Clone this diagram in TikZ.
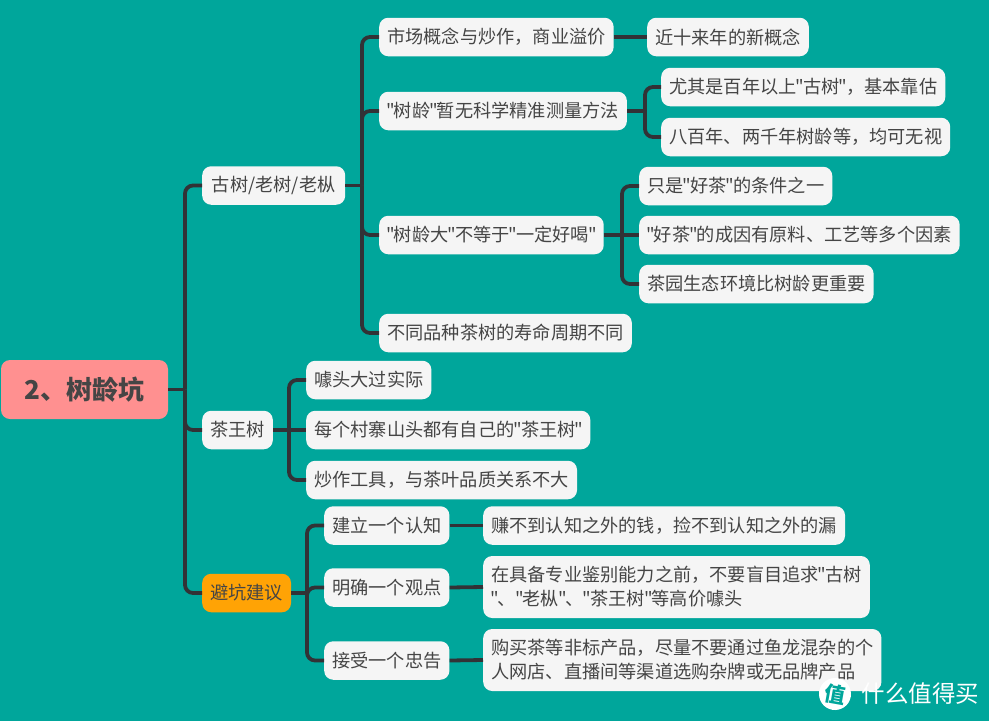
\documentclass[tikz,border=0pt]{standalone}
\usepackage{fontspec}
\newfontfamily\cjkfont{Noto Sans CJK SC}
\newcommand{\qm}{\kern-1pt"\kern-1pt}
\definecolor{bgteal}{HTML}{00A69B}
\definecolor{wirecol}{HTML}{323236}
\definecolor{leafcol}{HTML}{F5F5F5}
\definecolor{textcol}{HTML}{454545}
\definecolor{rootcol}{HTML}{FF9090}
\definecolor{tipcol}{HTML}{FFA305}
\tikzset{
    topic/.style={anchor=west, fill=leafcol, text=textcol, rounded corners=9pt, minimum height=38.5pt,
        inner xsep=8pt, inner ysep=3pt, font=\fontsize{18.2pt}{24pt}\cjkfont, align=left},
    wire/.style={draw=wirecol, line width=3.8pt, rounded corners=8pt},
}
\begin{document}
\begin{tikzpicture}[x=1pt, y=-1pt]
    \useasboundingbox (0,0) rectangle (989,721);
    \fill[bgteal] (0,0) rectangle (989,721);

    \coordinate (rootBus) at (185,389.5);
    \coordinate (treeBus) at (362,185.5);
    \coordinate (ageBus) at (645,111);
    \coordinate (drinkBus) at (622,235);
    \coordinate (kingBus) at (289,430);
    \coordinate (tipBus) at (307,593);

    \node[topic, anchor=center, fill=rootcol, minimum width=167pt, minimum height=59pt, font=\fontsize{26pt}{28pt}\cjkfont\bfseries] (root) at (84.5,389.5) {2、树龄坑};
    \node[topic, minimum width=143pt] (tree) at (202,185.5) {古树/老树/老枞};
    \node[topic] (king) at (202,430) {茶王树};
    \node[topic, fill=tipcol] (tip) at (202,593) {避坑建议};

    \node[topic] (market) at (379,37) {市场概念与炒作，商业溢价};
    \node[topic] (concept) at (647,37) {近十来年的新概念};
    \node[topic] (measure) at (379,111) {\qm 树龄\qm 暂无科学精准测量方法};
    \node[topic] (century) at (661,87) {尤其是百年以上\qm 古树\qm ，基本靠估};
    \node[topic] (ignore) at (661,137) {八百年、两千年树龄等，均可无视};
    \node[topic] (drink) at (379,235) {\qm 树龄大\qm 不等于\qm 一定好喝\qm};
    \node[topic] (only) at (639,186) {只是\qm 好茶\qm 的条件之一};
    \node[topic] (cause) at (639,235) {\qm 好茶\qm 的成因有原料、工艺等多个因素};
    \node[topic] (garden) at (639,284) {茶园生态环境比树龄更重要};
    \node[topic] (species) at (379,333) {不同品种茶树的寿命周期不同};

    \node[topic] (hype) at (306,380) {噱头大过实际};
    \node[topic] (village) at (306,430) {每个村寨山头都有自己的\qm 茶王树\qm};
    \node[topic] (tool) at (306,480) {炒作工具，与茶叶品质关系不大};

    \node[topic] (cognize) at (324,525.5) {建立一个认知};
    \node[topic] (money) at (483,525.5) {赚不到认知之外的钱，捡不到认知之外的漏};
    \node[topic] (view) at (324,587.5) {明确一个观点};
    \node[topic, minimum height=62pt] (chase) at (483,587) {在具备专业鉴别能力之前，不要盲目追求\qm 古树\\\qm 、\qm 老枞\qm 、\qm 茶王树\qm 等高价噱头};
    \node[topic] (advice) at (324,660.5) {接受一个忠告};
    \node[topic, minimum height=62pt] (buy) at (483,660) {购买茶等非标产品，尽量不要通过鱼龙混杂的个\\人网店、直播间等渠道选购杂牌或无品牌产品};

    \draw[wire] (root.east) -- (rootBus);
    \draw[wire] (rootBus) |- (tree.west);
    \draw[wire] (rootBus) |- (king.west);
    \draw[wire] (rootBus) |- (tip.west);

    \draw[wire] (tree.east) -- (treeBus);
    \draw[wire] (treeBus) |- (market.west);
    \draw[wire] (treeBus) |- (measure.west);
    \draw[wire] (treeBus) |- (drink.west);
    \draw[wire] (treeBus) |- (species.west);
    \draw[wire] (market.east) -- (concept.west);
    \draw[wire] (measure.east) -- (ageBus);
    \draw[wire] (ageBus) |- (century.west);
    \draw[wire] (ageBus) |- (ignore.west);
    \draw[wire] (drink.east) -- (drinkBus);
    \draw[wire] (drinkBus) |- (only.west);
    \draw[wire] (drinkBus) -- (cause.west);
    \draw[wire] (drinkBus) |- (garden.west);

    \draw[wire] (king.east) -- (kingBus);
    \draw[wire] (kingBus) |- (hype.west);
    \draw[wire] (kingBus) -- (village.west);
    \draw[wire] (kingBus) |- (tool.west);

    \draw[wire] (tip.east) -- (tipBus);
    \draw[wire] (tipBus) |- (cognize.west);
    \draw[wire] (tipBus) |- (view.west);
    \draw[wire] (tipBus) |- (advice.west);
    \draw[wire] (cognize.east) -- (money.west);
    \draw[wire] (view.east) -- (chase.west);
    \draw[wire] (advice.east) -- (buy.west);

    % site mark, bottom right
    \node[circle, fill=white, minimum size=32pt, inner sep=0pt, text=bgteal, rotate=-10, font=\fontsize{21pt}{21pt}\cjkfont\bfseries] (markIcon) at (835,694) {值};
    \node[anchor=west, text=white, font=\fontsize{23.5pt}{24pt}\cjkfont] (markText) at (858,694) {什么值得买};
\end{tikzpicture}
\end{document}
